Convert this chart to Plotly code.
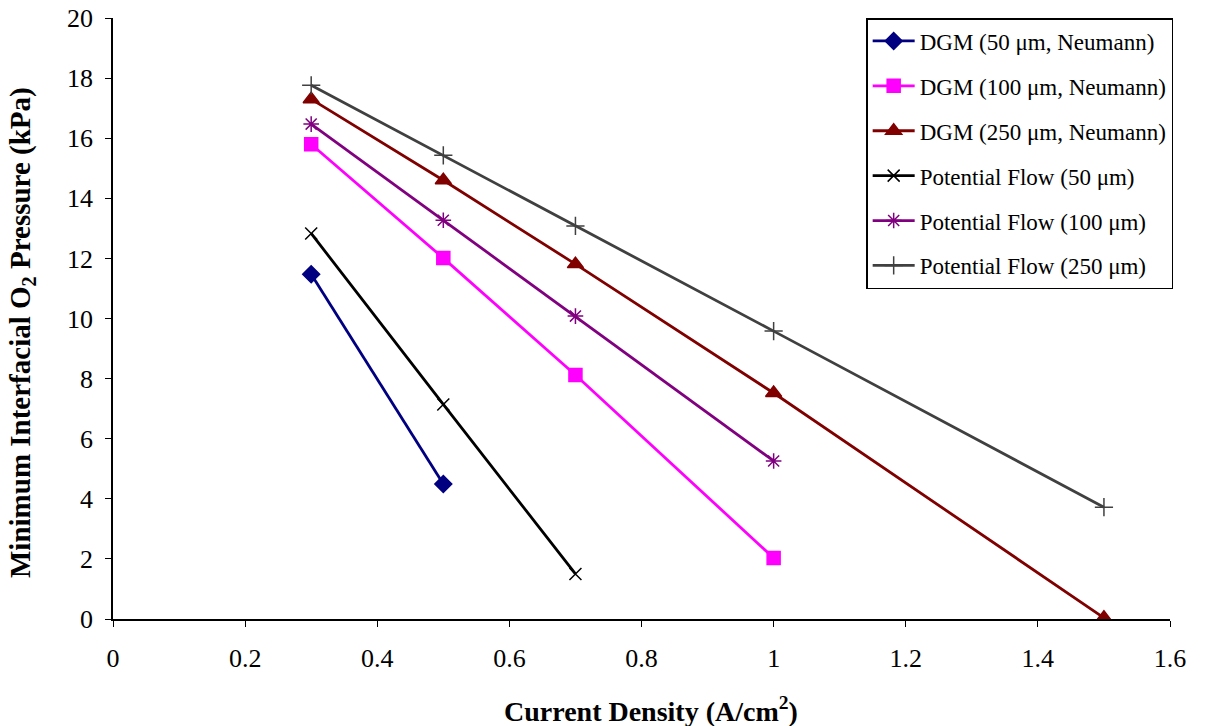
import plotly.graph_objects as go

x_dgm50 = [0.3, 0.5]
y_dgm50 = [11.47, 4.49]
x_dgm100 = [0.3, 0.5, 0.7, 1.0]
y_dgm100 = [15.8, 12.01, 8.12, 2.03]
x_dgm250 = [0.3, 0.5, 0.7, 1.0, 1.5]
y_dgm250 = [17.3, 14.6, 11.81, 7.52, 0.04]
x_pf50 = [0.3, 0.5, 0.7]
y_pf50 = [12.83, 7.14, 1.5]
x_pf100 = [0.3, 0.5, 0.7, 1.0]
y_pf100 = [16.47, 13.27, 10.08, 5.26]
x_pf250 = [0.3, 0.5, 0.7, 1.0, 1.5]
y_pf250 = [17.76, 15.43, 13.08, 9.58, 3.72]

names = ["DGM (50 μm, Neumann)", "DGM (100 μm, Neumann)", "DGM (250 μm, Neumann)",
         "Potential Flow (50 μm)", "Potential Flow (100 μm)", "Potential Flow (250 μm)"]
x_title = "<b>Current Density (A/cm<sup>2</sup>)</b>"
y_title = "<b>Minimum Interfacial O<sub>2</sub> Pressure (kPa)</b>"

series = [
    (x_dgm50, y_dgm50, "#000080", "diamond", 13),
    (x_dgm100, y_dgm100, "#FF00FF", "square", 13),
    (x_dgm250, y_dgm250, "#800000", "triangle-up", 14),
    (x_pf50, y_pf50, "#000000", "x-thin-open", 12),
    (x_pf100, y_pf100, "#800080", "asterisk-open", 13),
    (x_pf250, y_pf250, "#404040", "cross-thin-open", 13),
]

fig = go.Figure()
for i, ((xs, ys, col, sym, sz), nm) in enumerate(zip(series, names)):
    fig.add_trace(go.Scatter(
        x=xs, y=ys, name=nm, mode="lines+markers", legendgroup=str(i),
        line=dict(color=col, width=2.8),
        marker=dict(symbol=sym, size=sz, color=col, line=dict(color=col, width=1.5)),
    ))

font_family = "Liberation Serif, Times New Roman, serif"
fig.update_layout(
    width=1207, height=726,
    margin=dict(l=113, r=37, t=18, b=107, autoexpand=False),
    paper_bgcolor="white", plot_bgcolor="white",
    font=dict(family=font_family, size=24, color="black"),
    legend=dict(
        x=1.003, y=1.0, xanchor="right", yanchor="top",
        bordercolor="black", borderwidth=1.5, bgcolor="white",
        font=dict(family=font_family, size=23, color="black"),
        tracegroupgap=12, itemwidth=42,
    ),
    xaxis=dict(
        range=[0, 1.6], dtick=0.2, tick0=0, showgrid=False, zeroline=False,
        showline=True, linecolor="black", linewidth=1.5, automargin=False,
        ticks="outside", ticklen=6, tickcolor="black",
        tickfont=dict(family=font_family, size=26), ticklabelstandoff=9,
    ),
    yaxis=dict(
        range=[0, 20], dtick=2, tick0=0, showgrid=False, zeroline=False,
        showline=True, linecolor="black", linewidth=1.5, automargin=False,
        ticks="outside", ticklen=6, tickcolor="black",
        tickfont=dict(family=font_family, size=26), ticklabelstandoff=7,
    ),
    annotations=[
        dict(text=x_title, xref="paper", yref="paper", x=0.509, y=-0.1514,
             xanchor="center", yanchor="middle", showarrow=False,
             font=dict(family=font_family, size=28, color="black")),
        dict(text=y_title, xref="paper", yref="paper", x=-0.0861, y=0.4775,
             xanchor="center", yanchor="middle", showarrow=False, textangle=-90,
             font=dict(family=font_family, size=29, color="black")),
    ],
)

fig.write_html("out.html")
